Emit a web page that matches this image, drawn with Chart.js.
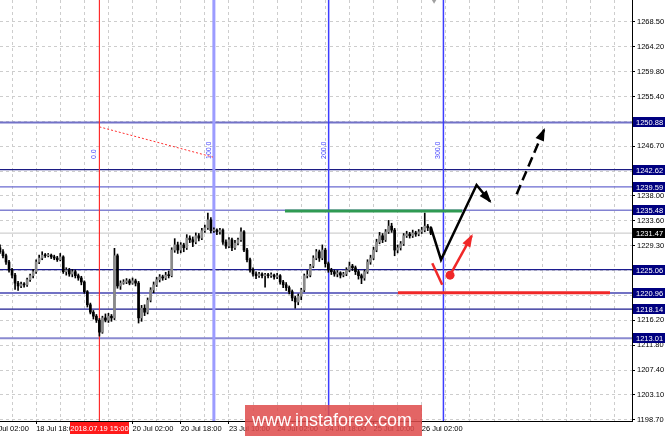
<!DOCTYPE html>
<html>
<head>
<meta charset="utf-8">
<script src="https://cdn.jsdelivr.net/npm/chart.js@4.4.1/dist/chart.umd.min.js"></script>
<style>
  html, body { margin: 0; padding: 0; background: #fff; }
  #wrap { position: relative; width: 665px; height: 436px; overflow: hidden; }
  #chart { display: block; }
  #mark { position: absolute; left: 245px; top: 405px; width: 177px; height: 31px; box-sizing: border-box;
    padding-left: 7px; background: rgba(222, 76, 76, 0.86); color: #fff;
    font: 18px "Liberation Sans", Arial, sans-serif; line-height: 30px; }
</style>
</head>
<body>
<div id="wrap">
  <canvas id="chart" width="665" height="436"></canvas>
  <div id="mark">www.instaforex.com</div>
</div>
<script>
// price axis ticks and the levels drawn on the chart
const priceTicks = [1198.70, 1203.10, 1207.40, 1211.80, 1216.20, 1220.50, 1224.90, 1229.30, 1233.60,
  1238.00, 1242.30, 1246.70, 1251.00, 1255.40, 1259.80, 1264.20, 1268.50];
const levelPrices = [1250.88, 1242.62, 1239.59, 1235.48, 1231.47, 1225.06, 1220.96, 1218.14, 1213.01];

// time axis (H1 bars, bar 0 = first visible candle)
const timeTickBars = [-4, 12, 28, 44, 60, 76, 92, 108, 124, 140];
const timeTickLabels = ['18 Jul 02:00', '18 Jul 18:00', '19 Jul 10:00', '20 Jul 02:00', '20 Jul 18:00',
  '23 Jul 10:00', '24 Jul 02:00', '24 Jul 18:00', '25 Jul 10:00', '26 Jul 02:00'];
const markedBar = 33;
const markedLabel = '2018.07.19 15:00';

// fibonacci time zones
const fiboBars = [33, 71, 109.1, 147.2];
const fiboLabels = ['0.0', '100.0', '200.0', '300.0'];
const fiboBase = [[33, 1250.1], [70.7, 1244.8]];

// drawings
const greenLine = [[94.6, 1235.35], [153.4, 1235.35]];
const redLine = [[132.1, 1221.0], [202.5, 1221.0]];
const blackPath = [[143, 1232.5], [146.4, 1226.8], [158.2, 1239.9], [162.7, 1237.0]];
const blackDashed = [[171.5, 1238.3], [180.6, 1249.6]];
const redStroke = [[143.5, 1226.2], [146.8, 1222.4]];
const redArrow = [[149.4, 1224.1], [156.6, 1231.0]];
const redDot = [149.4, 1224.1];
const shiftMarker = [144.1, 1272.2];

// candles: [open, high, low, close]
const candles = [
  [1228.9, 1229.4, 1227.9, 1228.2], [1228.2, 1228.6, 1227.1, 1227.5], [1227.5, 1227.8, 1226.0, 1226.4], [1226.4, 1226.7, 1224.6, 1225.0],
  [1225.0, 1225.3, 1223.6, 1224.1], [1224.1, 1224.4, 1221.6, 1222.7], [1222.7, 1223.0, 1221.4, 1222.2], [1222.2, 1222.9, 1221.9, 1222.5],
  [1222.5, 1222.8, 1222.0, 1222.4], [1222.4, 1223.6, 1222.1, 1223.3], [1223.3, 1224.3, 1223.0, 1224.0], [1224.0, 1225.1, 1223.6, 1224.7],
  [1224.7, 1226.8, 1224.4, 1226.4], [1226.4, 1227.6, 1226.1, 1227.1], [1227.1, 1228.2, 1226.8, 1227.6], [1227.6, 1227.9, 1227.2, 1227.5],
  [1227.5, 1227.9, 1227.3, 1227.6], [1227.6, 1227.8, 1227.0, 1227.3], [1227.3, 1227.6, 1226.8, 1227.1], [1227.1, 1227.4, 1226.5, 1226.8],
  [1226.8, 1227.9, 1226.6, 1227.3], [1227.3, 1227.5, 1224.4, 1224.7], [1224.7, 1225.4, 1224.1, 1225.0], [1225.0, 1225.3, 1223.9, 1224.3],
  [1224.3, 1225.1, 1223.8, 1224.7], [1224.7, 1225.0, 1223.6, 1224.0], [1224.0, 1224.3, 1223.2, 1223.6], [1223.6, 1223.9, 1222.4, 1222.9],
  [1222.9, 1223.1, 1220.9, 1221.2], [1221.2, 1221.4, 1218.5, 1218.9], [1218.9, 1219.2, 1217.3, 1217.6], [1217.6, 1217.9, 1216.4, 1216.9],
  [1216.9, 1217.2, 1215.8, 1216.2], [1216.2, 1216.5, 1213.4, 1214.1], [1214.1, 1216.9, 1213.9, 1216.6], [1216.6, 1217.3, 1215.9, 1216.2],
  [1216.2, 1217.4, 1215.8, 1216.9], [1216.9, 1217.2, 1216.0, 1216.6], [1216.6, 1228.8, 1216.3, 1227.5], [1227.5, 1227.8, 1221.8, 1222.2],
  [1222.2, 1223.1, 1221.6, 1222.7], [1222.7, 1223.3, 1222.5, 1222.9], [1222.9, 1223.5, 1222.6, 1223.1], [1223.1, 1223.4, 1222.4, 1222.7],
  [1222.7, 1223.6, 1222.5, 1223.1], [1223.1, 1223.4, 1222.2, 1222.7], [1222.7, 1223.0, 1215.7, 1216.6], [1216.6, 1218.8, 1216.0, 1218.3],
  [1218.3, 1218.9, 1217.0, 1217.6], [1217.6, 1220.1, 1217.3, 1219.7], [1219.7, 1221.9, 1219.4, 1221.5], [1221.5, 1222.9, 1221.0, 1222.4],
  [1222.4, 1223.7, 1222.1, 1223.3], [1223.3, 1224.2, 1222.9, 1223.8], [1223.8, 1224.1, 1223.2, 1223.6], [1223.6, 1224.6, 1223.3, 1224.1],
  [1224.1, 1224.8, 1223.6, 1224.0], [1224.0, 1228.9, 1223.8, 1228.5], [1228.5, 1230.5, 1228.1, 1229.4], [1229.4, 1229.9, 1227.9, 1228.5],
  [1228.5, 1229.8, 1228.0, 1229.4], [1229.4, 1229.7, 1228.2, 1228.9], [1228.9, 1231.2, 1228.6, 1230.6], [1230.6, 1231.0, 1229.8, 1230.3],
  [1230.3, 1230.8, 1229.1, 1229.9], [1229.9, 1231.5, 1229.6, 1231.0], [1231.0, 1231.4, 1230.1, 1230.6], [1230.6, 1232.3, 1230.3, 1231.9],
  [1231.9, 1232.9, 1231.6, 1232.4], [1232.4, 1235.0, 1232.1, 1233.8], [1233.8, 1234.2, 1231.5, 1231.9], [1231.9, 1232.4, 1231.6, 1232.0],
  [1232.0, 1232.2, 1231.2, 1231.7], [1231.7, 1232.3, 1231.3, 1232.0], [1232.0, 1232.2, 1229.5, 1229.9], [1229.9, 1230.3, 1228.8, 1229.2],
  [1229.2, 1230.7, 1228.9, 1230.3], [1230.3, 1230.6, 1228.4, 1228.9], [1228.9, 1230.2, 1228.6, 1229.7], [1229.7, 1230.6, 1229.4, 1230.3],
  [1230.3, 1232.4, 1230.0, 1231.7], [1231.7, 1231.9, 1228.2, 1228.5], [1228.5, 1228.8, 1226.4, 1226.8], [1226.8, 1227.1, 1224.6, 1225.0],
  [1225.0, 1225.4, 1223.9, 1224.3], [1224.3, 1224.7, 1223.5, 1224.0], [1224.0, 1224.6, 1223.7, 1224.3], [1224.3, 1224.5, 1223.6, 1224.0],
  [1224.0, 1224.4, 1222.0, 1224.1], [1224.1, 1224.4, 1223.6, 1224.0], [1224.0, 1224.5, 1223.7, 1224.1], [1224.1, 1224.3, 1223.4, 1223.8],
  [1223.8, 1224.4, 1223.5, 1224.0], [1224.0, 1224.2, 1222.5, 1222.9], [1222.9, 1223.2, 1221.9, 1222.4], [1222.4, 1222.8, 1221.4, 1221.9],
  [1221.9, 1222.2, 1220.8, 1221.2], [1221.2, 1221.5, 1219.6, 1220.1], [1220.1, 1220.4, 1218.3, 1219.4], [1219.4, 1220.8, 1218.9, 1220.4],
  [1220.4, 1221.8, 1219.8, 1221.5], [1221.5, 1224.3, 1221.2, 1224.0], [1224.0, 1224.9, 1223.6, 1224.1], [1224.1, 1226.0, 1223.8, 1225.7],
  [1225.7, 1227.5, 1225.4, 1227.1], [1227.1, 1228.6, 1226.8, 1228.2], [1228.2, 1228.5, 1226.5, 1227.1], [1227.1, 1229.4, 1226.8, 1228.5],
  [1228.5, 1228.8, 1225.5, 1226.1], [1226.1, 1226.4, 1224.6, 1225.0], [1225.0, 1225.3, 1224.2, 1224.7], [1224.7, 1225.0, 1223.9, 1224.3],
  [1224.3, 1224.9, 1223.8, 1224.5], [1224.5, 1224.7, 1223.6, 1224.1], [1224.1, 1224.6, 1223.8, 1224.3], [1224.3, 1225.4, 1224.0, 1225.0],
  [1225.0, 1226.4, 1224.7, 1225.7], [1225.7, 1226.0, 1224.9, 1225.4], [1225.4, 1225.7, 1224.2, 1224.7], [1224.7, 1225.0, 1223.4, 1224.0],
  [1224.0, 1224.3, 1222.6, 1223.6], [1223.6, 1225.0, 1223.2, 1224.7], [1224.7, 1226.8, 1224.4, 1226.4], [1226.4, 1227.6, 1226.0, 1227.1],
  [1227.1, 1229.0, 1226.8, 1228.5], [1228.5, 1230.4, 1228.2, 1229.9], [1229.9, 1231.6, 1229.6, 1231.0], [1231.0, 1231.4, 1229.8, 1230.3],
  [1230.3, 1232.1, 1230.0, 1231.7], [1231.7, 1233.7, 1231.4, 1232.7], [1232.7, 1233.2, 1231.6, 1232.0], [1232.0, 1232.3, 1227.5, 1228.5],
  [1228.5, 1229.4, 1228.0, 1228.9], [1228.9, 1230.0, 1228.5, 1229.6], [1229.6, 1231.4, 1229.3, 1231.0], [1231.0, 1231.8, 1230.7, 1231.3],
  [1231.3, 1231.6, 1230.6, 1231.0], [1231.0, 1232.0, 1230.7, 1231.5], [1231.5, 1231.8, 1230.9, 1231.3], [1231.3, 1232.1, 1231.0, 1231.7],
  [1231.7, 1232.5, 1231.4, 1232.0], [1232.0, 1235.0, 1231.7, 1232.7], [1232.7, 1233.0, 1231.9, 1232.4], [1232.4, 1232.6, 1231.2, 1231.47]
];

// view range
const yMin = 1198.52, yMax = 1272.35;
const xMin = 0, xMax = 209.8;

// styles
const levelColors = ['#7272c8', '#1c1c84', '#6a6ad0', '#8282d2', '#c4c4c4', '#1c1c90', '#7272c4', '#1c1c90', '#8a8ad0'];
const levelWidths = [2, 1.2, 1.2, 1.5, 1, 1.2, 2, 1.2, 2];
const tagColors = ['#000080', '#000080', '#000080', '#000080', '#000000', '#000080', '#000080', '#000080', '#000080'];
const fiboColors = ['#ff3030', '#9c9cff', '#3c3cff', '#3c3cff'];
const fiboWidths = [1, 3, 1.5, 1.5];
const FONT = '"Liberation Sans", Arial, sans-serif';

const pts = arr => arr.map(p => ({ x: p[0], y: p[1] }));
const line = (data, color, width, order, extra) => Object.assign({
  type: 'line', data: pts(data), borderColor: color, borderWidth: width, pointRadius: 0,
  tension: 0, fill: false, order: order
}, extra || {});

const datasets = [];

// horizontal levels
levelPrices.forEach((v, i) => {
  datasets.push(line([[xMin, v], [xMax, v]], levelColors[i], levelWidths[i], 20));
});

// fibo time zone lines + base
fiboBars.forEach((b, i) => {
  datasets.push(line([[b, yMin], [b, yMax]], fiboColors[i], fiboWidths[i], 19));
});
datasets.push(line(fiboBase, '#ff3030', 1, 18, { borderDash: [2, 2] }));
datasets.push(line([[markedBar, yMin], [markedBar, yMax]], '#ff2a2a', 1, 17));

// candles
datasets.push({
  type: 'bar', order: 11, grouped: false, barThickness: 1,
  data: candles.map((c, i) => ({ x: i, y: [c[2], c[1]] })),
  backgroundColor: '#000'
});
datasets.push({
  type: 'bar', order: 10, grouped: false, barThickness: 2, minBarLength: 1,
  data: candles.map((c, i) => ({ x: i, y: [c[0], c[3]] })),
  backgroundColor: candles.map(c => c[3] >= c[0] ? '#8a8a8a' : '#000000')
});

// drawings
datasets.push(line(greenLine, '#2f9a52', 3, 5));
datasets.push(line(redLine, '#f02828', 3, 5));
datasets.push(line(blackPath, '#000000', 2.5, 4, { arrow: true, borderJoinStyle: 'miter' }));
datasets.push(line(blackDashed, '#000000', 2.5, 4, { arrow: true, borderDash: [10, 5] }));
datasets.push(line(redStroke, '#f02828', 2.5, 4));
datasets.push(line(redArrow, '#f02828', 2.5, 4, { arrow: true }));
datasets.push(line([redDot], '#f02828', 0, 3, { showLine: false, pointRadius: 4.5, backgroundColor: '#f02828' }));
datasets.push(line([shiftMarker], '#a0a0a0', 0, 3, {
  showLine: false, pointRadius: 3, pointStyle: 'triangle', rotation: 180,
  backgroundColor: '#a0a0a0', clip: false
}));

const gridBars = [];
for (let b = -4; b <= 208; b += 8) gridBars.push(b);

// arrow heads at the last segment of flagged datasets
const arrowHeads = {
  id: 'arrowHeads',
  afterDatasetsDraw(chart) {
    const ctx = chart.ctx;
    chart.data.datasets.forEach((ds, i) => {
      if (!ds.arrow) return;
      const el = chart.getDatasetMeta(i).data;
      const a = el[el.length - 2], b = el[el.length - 1];
      const ang = Math.atan2(b.y - a.y, b.x - a.x);
      const len = 11, half = 4.5;
      const cx = Math.cos(ang), sy = Math.sin(ang);
      ctx.save();
      ctx.fillStyle = ds.borderColor;
      ctx.beginPath();
      ctx.moveTo(b.x + cx * 2, b.y + sy * 2);
      ctx.lineTo(b.x - len * cx + half * sy, b.y - len * sy - half * cx);
      ctx.lineTo(b.x - len * cx - half * sy, b.y - len * sy + half * cx);
      ctx.closePath();
      ctx.fill();
      ctx.restore();
    });
  }
};

// rotated fibo labels
const fiboText = {
  id: 'fiboText',
  afterDatasetsDraw(chart) {
    const { ctx, scales: { x } } = chart;
    ctx.save();
    ctx.font = '7px ' + FONT;
    ctx.fillStyle = '#4a4aff';
    ctx.textAlign = 'left';
    ctx.textBaseline = 'middle';
    fiboBars.forEach((b, i) => {
      ctx.save();
      ctx.translate(x.getPixelForValue(b) - 5, 159);
      ctx.rotate(-Math.PI / 2);
      ctx.fillText(fiboLabels[i], 0, 0);
      ctx.restore();
    });
    ctx.restore();
  }
};

// price tags on the right axis, date tag on the time axis
const tags = {
  id: 'tags',
  afterDraw(chart) {
    const { ctx, chartArea, scales: { x, y } } = chart;
    ctx.save();
    ctx.font = '7.5px ' + FONT;
    ctx.textBaseline = 'middle';
    ctx.textAlign = 'left';
    levelPrices.forEach((v, i) => {
      const py = Math.round(y.getPixelForValue(v));
      ctx.fillStyle = tagColors[i];
      ctx.fillRect(chartArea.right + 1, py - 5, 33, 10);
      ctx.fillStyle = '#ffffff';
      ctx.fillText(v.toFixed(2), chartArea.right + 4, py + 0.5);
    });
    const px = x.getPixelForValue(markedBar);
    ctx.fillStyle = '#ff1a1a';
    ctx.fillRect(Math.round(px - 29.5), chartArea.bottom + 1, 59, 12);
    ctx.fillStyle = '#ffffff';
    ctx.textAlign = 'center';
    ctx.fillText(markedLabel, px, chartArea.bottom + 7.5);
    ctx.restore();
  }
};

Chart.defaults.font.family = FONT;
Chart.defaults.font.size = 7.5;
Chart.defaults.color = '#000';

new Chart(document.getElementById('chart'), {
  type: 'line',
  data: { datasets: datasets },
  options: {
    responsive: false,
    animation: false,
    devicePixelRatio: 1,
    events: [],
    layout: { padding: 0, autoPadding: false },
    plugins: { legend: { display: false }, tooltip: { enabled: false } },
    scales: {
      x: {
        type: 'linear', min: xMin, max: xMax, offset: false,
        grid: { color: '#cdcdcd', lineWidth: 1, offset: false, tickLength: 3,
          tickColor: c => c.tick && timeTickBars.includes(c.tick.value) ? '#000' : 'rgba(0,0,0,0)' },
        border: { display: true, color: '#000', width: 1, dash: [3, 3] },
        ticks: {
          autoSkip: false, maxRotation: 0, align: 'start', padding: 0,
          callback: v => { const k = timeTickBars.indexOf(v); return k >= 0 ? timeTickLabels[k] : ''; }
        },
        afterBuildTicks: s => { s.ticks = gridBars.map(v => ({ value: v })); },
        afterFit: s => { s.height = 15; s.paddingLeft = 0; s.paddingRight = 0; }
      },
      y: {
        type: 'linear', position: 'right', min: yMin, max: yMax,
        grid: { color: '#cdcdcd', lineWidth: 1, tickLength: 3, tickColor: '#000' },
        border: { display: true, color: '#000', width: 1, dash: [3, 3] },
        ticks: { padding: 2, autoSkip: false, callback: v => v.toFixed(2) },
        afterBuildTicks: s => { s.ticks = priceTicks.map(v => ({ value: v })); },
        afterFit: s => { s.width = 33; s.paddingTop = 0; s.paddingBottom = 0; }
      }
    }
  },
  plugins: [arrowHeads, fiboText, tags]
});
</script>
</body>
</html>
